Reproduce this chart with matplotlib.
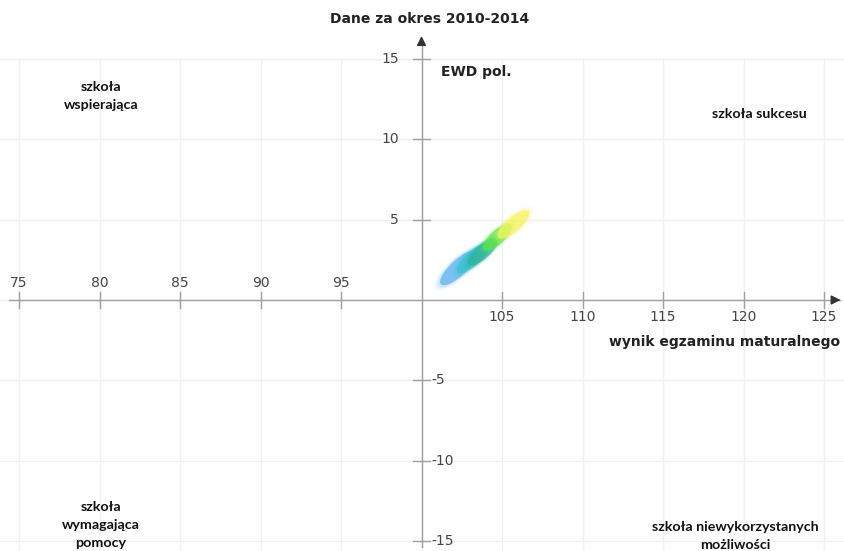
import matplotlib
matplotlib.use("Agg")
import matplotlib.pyplot as plt
from matplotlib.patches import Ellipse
import numpy as np

# ---- data ----
x_ticks = [75, 80, 85, 90, 95, 105, 110, 115, 120, 125]
y_ticks = [15, 10, 5, -5, -10, -15]
ell_x = [102.3, 103.2, 103.8, 104.7, 105.7]
ell_y = [2.0, 2.6, 3.0, 3.9, 4.7]
ell_len = [3.0, 2.6, 2.4, 2.3, 2.5]
ell_wid = [1.0, 0.9, 0.85, 0.85, 0.9]
ell_ang = [43, 42, 42, 42, 41]
ell_col = ["#5fb2ee", "#34c4cc", "#2cb39c", "#5ce64a", "#f6f45e"]

title = "Dane za okres 2010-2014"
ylabel = "EWD pol."
xlabel = "wynik egzaminu maturalnego"

fig = plt.figure(figsize=(8.44, 5.51), dpi=100)
ax = fig.add_axes([0, 0, 1, 1])
ax.set_xlim(73.82, 126.24)
ax.set_ylim(-15.62, 18.67)
ax.axis("off")

grid_c = "#f0f0f0"
for xv in range(75, 130, 5):
    ax.plot([xv, xv], [-15.6, 15], color=grid_c, lw=1, zorder=0)
for yv in range(-15, 20, 5):
    ax.plot([73.82, 126.24], [yv, yv], color=grid_c, lw=1, zorder=0)

# axes lines with arrows
axc = "#a0a0a0"
ax.plot([74.4, 126.0], [0, 0], color=axc, lw=1, zorder=1)
ax.plot([100, 100], [-15.4, 16.0], color=axc, lw=1, zorder=1)
ax.annotate("", xy=(126.2, 0), xytext=(125.3, 0),
            arrowprops=dict(arrowstyle="-|>", color="#333333", lw=1, mutation_scale=14))
ax.annotate("", xy=(100, 16.6), xytext=(100, 15.7),
            arrowprops=dict(arrowstyle="-|>", color="#333333", lw=1, mutation_scale=14))

# ticks
for xv in x_ticks:
    ax.plot([xv, xv], [-0.5, 0.5], color=axc, lw=1, zorder=1)
    if xv < 100:
        ax.text(xv, 0.65, str(xv), ha="center", va="bottom", fontsize=10, color="#444444")
    else:
        ax.text(xv, -0.65, str(xv), ha="center", va="top", fontsize=10, color="#444444")
for yv in y_ticks:
    ax.plot([99.5, 100.5], [yv, yv], color=axc, lw=1, zorder=1)
    if yv > 0:
        ax.text(98.6, yv, str(yv), ha="right", va="center", fontsize=10, color="#444444")
    else:
        ax.text(100.6, yv, str(yv), ha="left", va="center", fontsize=10, color="#444444")

# ellipses with soft edges
for cx, cy, L, W, a, c in zip(ell_x, ell_y, ell_len, ell_wid, ell_ang, ell_col):
    for s, al in [(1.3, 0.1), (1.15, 0.18), (1.0, 0.75)]:
        ax.add_patch(Ellipse((cx, cy), L * s, W * s, angle=a, facecolor=c,
                             edgecolor="none", alpha=al, zorder=2))

# labels
ax.text(100.5, 17.5, title, ha="center", va="center", fontsize=10,
        fontweight="bold", color="#222222")
ax.text(101.2, 14.2, ylabel, ha="left", va="center", fontsize=10,
        fontweight="bold", color="#222222")
ax.text(126.0, -2.6, xlabel, ha="right", va="center", fontsize=10,
        fontweight="bold", color="#222222")

qf = dict(family="Lato", fontweight="bold", fontsize=10.3, color="#111111",
          ha="center", va="center", linespacing=1.6)
ax.text(80.1, 12.7, "szkoła\nwspierająca", **qf)
ax.text(121.0, 11.6, "szkoła sukcesu", **qf)
ax.text(80.1, -14.0, "szkoła\nwymagająca\npomocy", **qf)
ax.text(119.5, -14.7, "szkoła niewykorzystanych\nmożliwości", **qf)

fig.savefig("out.png", dpi=100)
